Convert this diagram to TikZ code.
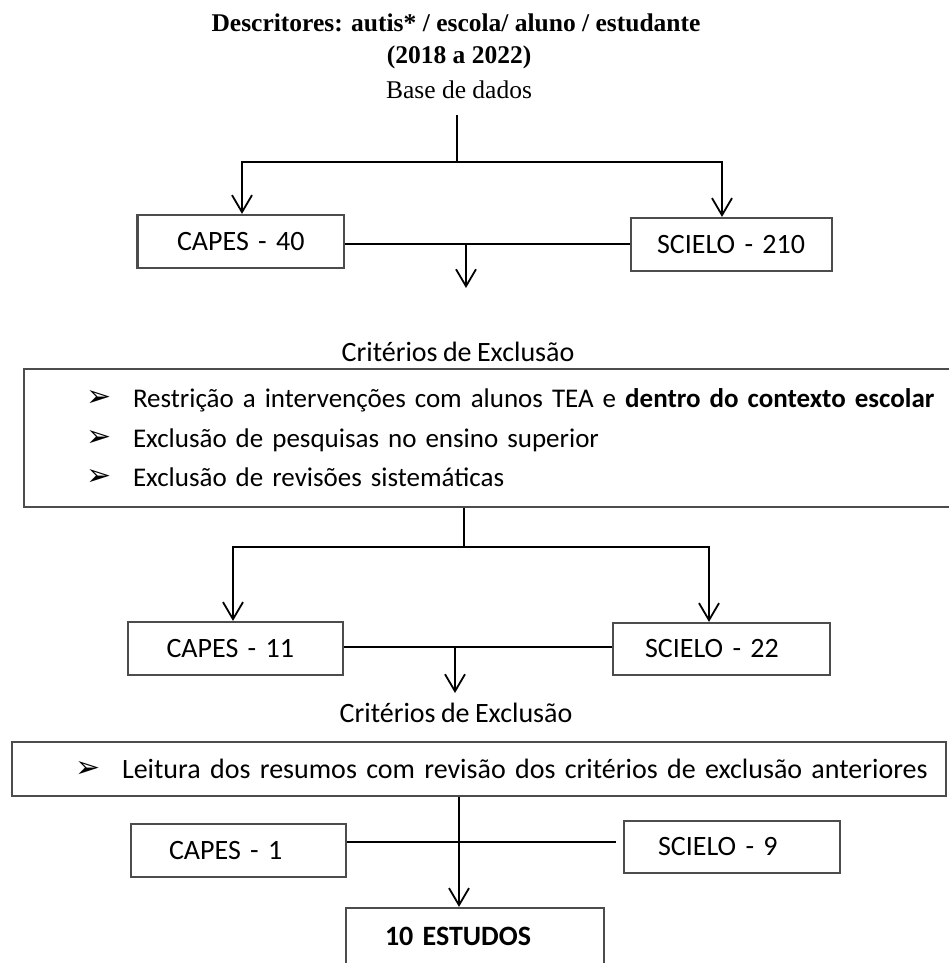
\documentclass[tikz,border=0pt]{standalone}
\usepackage{fontspec}
\setmainfont{Liberation Serif}
\newfontfamily\calfont[WordSpace=0.85]{Carlito}
\newfontfamily\symfont{DejaVu Sans}
\usetikzlibrary{arrows.meta}
\newcommand\bul[1]{\makebox[#1][l]{\raisebox{1pt}{\symfont\fontsize{30}{30}\selectfont ➢}}}
\begin{document}
\begin{tikzpicture}[x=1pt,y=-1pt,
  box/.style={draw=black!70, line width=2.2pt, rectangle, align=left, inner ysep=0pt,
    font=\calfont\fontsize{28}{34}\selectfont},
  ttl/.style={inner sep=0pt, font=\fontsize{25.5}{30}\selectfont},
  crit/.style={inner sep=0pt, font=\calfont\fontsize{28}{34}\selectfont},
  conn/.style={line width=1.8pt},
  arr/.style={conn, -{Straight Barb[length=17pt,width=20pt]}}]
\useasboundingbox (0,0) rectangle (948,963);
\fill[white] (0,0) rectangle (948,963);

% titles
\node[ttl] (t1) at (456,23) {\bfseries Descritores: autis* / escola/ aluno / estudante};
\node[ttl] (t2) at (459,57) {\bfseries (2018 a 2022)};
\node[ttl] (t3) at (459,90) {Base de dados};

% first level boxes
\node[box, text width=127.5pt, inner xsep=39.5pt, minimum height=53pt] (c40) at (240.75,241.5) {\mbox{CAPES - 40}};
\node[box, text width=149pt, inner xsep=26pt, minimum height=53pt] (s210) at (731.5,244.5) {\mbox{SCIELO - 210}};

\coordinate (s1) at (457,115);
\coordinate (j1) at (457,162);
\coordinate (xl1) at (242,162);
\coordinate (xr1) at (722,162);
\draw[conn] (s1) -- (j1);
\draw[arr] (j1) -- (xl1) -- (c40.north -| xl1);
\draw[arr] (j1) -- (xr1) -- (s210.north -| xr1);

\coordinate (m1) at (466,244);
\coordinate (a1) at (466,288);
\draw[conn] (c40.east |- m1) -- (s210.west |- m1);
\draw[arr] (m1) -- (a1);

% first criteria
\node[crit] (cr1) at (458,352) {Critérios de Exclusão};
\node[box, text width=870pt, inner xsep=62pt, minimum height=138pt,
  font=\calfont\fontsize{27}{39.5}\selectfont] (bb) at (521,438)
  {\mbox{\bul{47pt}Restrição a intervenções com alunos TEA e \textbf{dentro do contexto escolar}}\\
   \mbox{\bul{47pt}Exclusão de pesquisas no ensino superior}\\
   \mbox{\bul{47pt}Exclusão de revisões sistemáticas}};

% second level boxes
\node[box, text width=138pt, inner xsep=38.5pt, minimum height=53pt] (c11) at (235.5,648.5) {\mbox{CAPES - 11}};
\node[box, text width=153pt, inner xsep=32pt, minimum height=52pt] (s22) at (721.5,649) {\mbox{SCIELO - 22}};

\coordinate (j2) at (464,547);
\coordinate (xl2) at (233,547);
\coordinate (xr2) at (709,547);
\draw[conn] (bb.south -| j2) -- (j2);
\draw[arr] (j2) -- (xl2) -- (c11.north -| xl2);
\draw[arr] (j2) -- (xr2) -- (s22.north -| xr2);

\coordinate (m2) at (455,647);
\coordinate (a2) at (455,693);
\draw[conn] (c11.east |- m2) -- (s22.west |- m2);
\draw[arr] (m2) -- (a2);

% second criteria
\node[crit] (cr2) at (456,713) {Critérios de Exclusão};
\node[box, text width=808pt, inner xsep=63pt, minimum height=54pt] (b2) at (479,769)
  {\mbox{\bul{47pt}Leitura dos resumos com revisão dos critérios de exclusão anteriores}};

% third level boxes
\node[box, text width=139pt, inner xsep=38pt, minimum height=53pt] (c1) at (238.5,850.5) {\mbox{CAPES - 1}};
\node[box, text width=148pt, inner xsep=34pt, minimum height=52pt] (s9) at (732,847) {\mbox{SCIELO - 9}};
\node[box, text width=180pt, inner xsep=39pt, minimum height=56pt] (est) at (475,936) {\mbox{\textbf{10 ESTUDOS}}};

\coordinate (m3) at (459,842);
\coordinate (e3) at (616,842);
\draw[conn] (c1.east |- m3) -- (e3);
\draw[arr] (b2.south -| m3) -- (est.north -| m3);
\end{tikzpicture}
\end{document}
